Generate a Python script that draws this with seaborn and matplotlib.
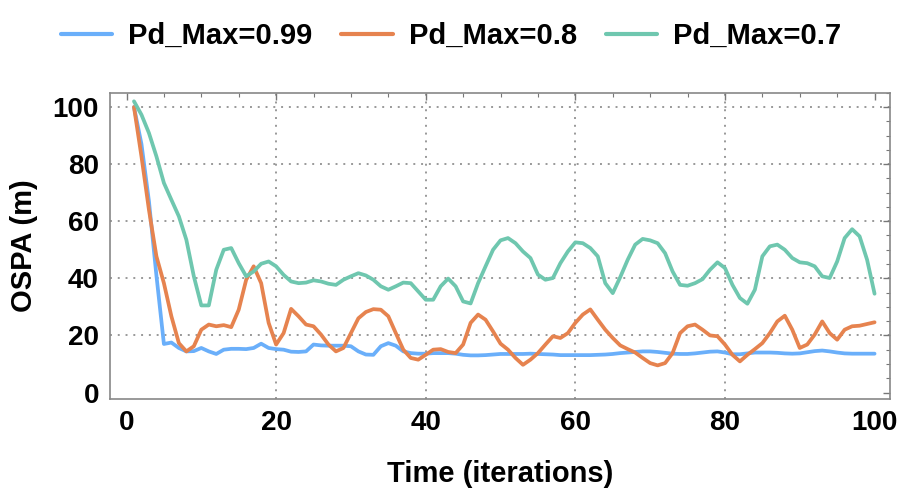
import matplotlib
matplotlib.use("Agg")
import matplotlib.pyplot as plt
import seaborn as sns
import numpy as np
import pandas as pd
from matplotlib.ticker import MultipleLocator

iterations = list(range(1, 101))

ospa_099 = [100, 87, 67, 41, 17, 17.5, 15.6, 14.4, 14.5, 15.6,
            14.4, 13.5, 15, 15.3, 15.3, 15.2, 15.6, 17.1, 15.6, 15.2,
            15, 14.3, 14.2, 14.4, 16.8, 16.5, 16.4, 16.4, 16.4, 16.2,
            14.4, 13.3, 13.2, 16.2, 17.3, 16.4, 14.4, 13.8, 13.6, 13.6,
            13.8, 13.8, 13.8, 13.6, 13.2, 13, 13, 13.1, 13.3, 13.5,
            13.5, 13.5, 13.5, 13.6, 13.5, 13.4, 13.3, 13.1, 13.1, 13.1,
            13.1, 13.1, 13.2, 13.3, 13.5, 13.8, 14, 14.2, 14.4, 14.4,
            14.2, 13.9, 13.6, 13.5, 13.5, 13.7, 14, 14.3, 14.4, 14,
            13.4, 13.4, 13.7, 14, 14, 14, 13.9, 13.7, 13.6, 13.7,
            14.1, 14.5, 14.7, 14.4, 14, 13.7, 13.6, 13.6, 13.6, 13.6]

ospa_08 = [100, 82.7, 64, 47.7, 38.3, 26.7, 17.3, 14.4, 16.2, 22,
           23.8, 23.2, 23.6, 22.9, 29, 39.5, 44.2, 38.3, 24.4, 16.8,
           20.8, 29.3, 26.7, 23.8, 23.2, 20.3, 16.8, 14.4, 15.6, 20.8,
           26, 28.2, 29.2, 29, 26.7, 20.8, 15, 12.1, 11.5, 13.2,
           15, 15.2, 14.2, 13.8, 16.8, 24.4, 27.3, 25.5, 21.4, 17.1,
           15, 12.1, 9.7, 11.5, 13.8, 16.8, 19.7, 19.1, 20.8, 24.4,
           27.3, 29.1, 25.5, 22, 19.1, 16.5, 15.2, 14, 12.1, 10.3,
           9.5, 10.3, 13.8, 20.8, 23.2, 23.8, 22, 20, 19.7, 16.8,
           13.2, 10.9, 13.2, 15.2, 17.3, 20.8, 24.9, 26.9, 22, 15.6,
           16.8, 20.3, 24.9, 20.8, 18.5, 22, 23.2, 23.4, 24, 24.6]

ospa_07 = [102, 97.3, 90.9, 82.7, 73.4, 67.5, 61.7, 53.5, 40.7, 30.5,
           30.5, 43, 50, 50.6, 45.3, 40.7, 42.4, 45.1, 45.9, 44.2,
           41.2, 38.9, 38.3, 38.5, 39.3, 38.9, 38.1, 37.7, 39.5, 40.7,
           41.8, 41, 39.5, 37.2, 36, 37.2, 38.5, 38.3, 35.4, 32.5,
           32.5, 37.2, 39.9, 37.2, 31.9, 31.2, 38.3, 44.2, 50, 53.3,
           54.1, 52.3, 49.4, 47.1, 41.3, 39.5, 40.1, 45.3, 49.4, 52.6,
           52.3, 50.6, 47.7, 38.3, 34.8, 40.4, 46.5, 51.8, 53.8, 53.3,
           52.3, 48.8, 42.4, 37.7, 37.4, 38.3, 39.7, 43, 45.6, 43.6,
           37.7, 33.1, 31.1, 36, 47.7, 51.2, 51.8, 50, 47.1, 45.6,
           45.3, 44.2, 40.7, 40.1, 45.9, 54.1, 57.2, 54.7, 46.5, 34.6]

labels = ["Pd_Max=0.99", "Pd_Max=0.8", "Pd_Max=0.7"]
colors = ["#6AAFFA", "#E6834F", "#6FC7AF"]

df = pd.concat([
    pd.DataFrame({"Time": iterations, "OSPA": vals, "Series": lab})
    for vals, lab in zip([ospa_099, ospa_08, ospa_07], labels)
])

sns.set_style("white")
plt.rcParams["font.family"] = ["Liberation Sans", "DejaVu Sans"]
plt.rcParams["font.weight"] = "bold"
plt.rcParams["text.color"] = "black"
plt.rcParams["axes.labelcolor"] = "black"
plt.rcParams["xtick.labelcolor"] = "black"
plt.rcParams["ytick.labelcolor"] = "black"

fig = plt.figure(figsize=(9.02, 4.96), dpi=100)
ax = fig.add_axes([0.122, 0.196, 0.865, 0.617])

sns.lineplot(data=df, x="Time", y="OSPA", hue="Series", hue_order=labels,
             palette=dict(zip(labels, colors)), linewidth=2.7, ax=ax)
for line in ax.get_lines():
    line.set_solid_joinstyle("round")

ax.set_xlim(-2.2, 102.1)
ax.set_ylim(-2.2, 105)
ax.xaxis.set_major_locator(MultipleLocator(20))
ax.xaxis.set_minor_locator(MultipleLocator(5))
ax.yaxis.set_major_locator(MultipleLocator(20))
ax.yaxis.set_minor_locator(MultipleLocator(5))

for v in [20, 40, 60, 80]:
    ax.axvline(v, color="#999999", lw=1.4, ls=(0, (1, 3)), zorder=0)
for v in [20, 40, 60, 80, 100]:
    ax.axhline(v, color="#999999", lw=1.4, ls=(0, (1, 3)), zorder=0)

ax.tick_params(which="both", direction="in", top=True, right=True,
               color="#777777", labelsize=20, pad=8)
ax.tick_params(which="major", length=5, width=1)
ax.tick_params(which="minor", length=3, width=0.8)
for lab in ax.get_xticklabels() + ax.get_yticklabels():
    lab.set_fontweight("bold")
for sp in ax.spines.values():
    sp.set_color("#888888")
    sp.set_linewidth(1.2)

ax.set_xlabel("Time (iterations)", fontsize=21, fontweight="bold")
ax.set_ylabel("OSPA (m)", fontsize=21, fontweight="bold")
ax.yaxis.set_label_coords(-0.092, 0.5)
ax.xaxis.set_label_coords(0.5, -0.2)

handles, _ = ax.get_legend_handles_labels()
ax.legend(handles, labels, loc="center", bbox_to_anchor=(0.5, 0.927),
          bbox_transform=fig.transFigure, ncol=3, frameon=False,
          prop={"size": 21, "weight": "bold"}, handlelength=1.75,
          handletextpad=0.55, columnspacing=1.0)
for line in ax.get_legend().get_lines():
    line.set_linewidth(3)

fig.savefig("out.png", dpi=100)
